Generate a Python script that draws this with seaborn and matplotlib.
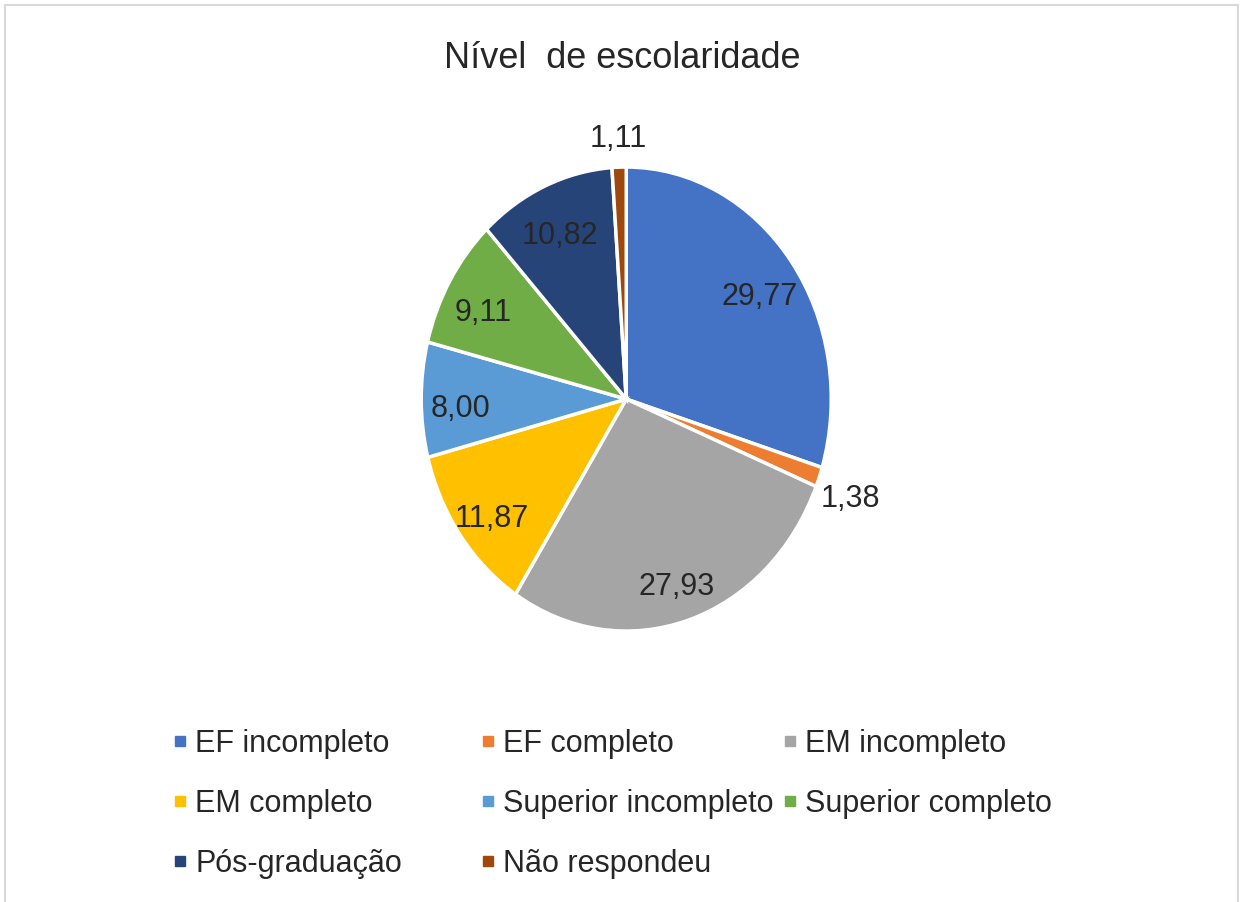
import matplotlib
matplotlib.use("Agg")
import matplotlib.pyplot as plt
from matplotlib.lines import Line2D
from matplotlib.patches import Rectangle
import numpy as np
import seaborn as sns

categories = ["EF incompleto", "EF completo", "EM incompleto", "EM completo",
              "Superior incompleto", "Superior completo", "Pós-graduação", "Não respondeu"]
values = [29.77, 1.38, 27.93, 11.87, 8.00, 9.11, 10.82, 1.11]
colors = ["#4472C4", "#ED7D31", "#A5A5A5", "#FFC000",
          "#5B9BD5", "#70AD47", "#264478", "#9E480E"]
title = "Nível  de escolaridade"

sns.set_theme(style="white")
plt.rcParams['font.family'] = ['Liberation Sans', 'DejaVu Sans']

fig = plt.figure(figsize=(12.44, 9.02), dpi=100)
fig.patch.set_facecolor("white")

# light frame around the chart area
fig.add_artist(Rectangle((5 / 1244, -0.01), 1233 / 1244, 1 - 5 / 902 + 0.01,
                         transform=fig.transFigure, fill=False,
                         edgecolor="#d9d9d9", linewidth=1.5))

ax = fig.add_axes([0.2974, 0.2361, 0.412, 0.643])
wedges, _ = ax.pie(values, colors=colors, startangle=90, counterclock=False,
                   wedgeprops=dict(edgecolor="white", linewidth=2.5))
ax.set_aspect("auto")
ax.set_xlim(-1.25, 1.25)
ax.set_ylim(-1.25, 1.25)
ax.axis("off")

# data labels (comma decimal), small slices outside
for w, v in zip(wedges, values):
    ang = np.deg2rad((w.theta1 + w.theta2) / 2)
    r = 1.16 if v < 2 else 0.81
    ax.text(r * np.cos(ang), r * np.sin(ang) - 0.04, f"{v:.2f}".replace(".", ","),
            ha="center", va="center", fontsize=22, color="#262626")

fig.text(0.5004, 1 - 58 / 902, title, ha="center", va="center",
         fontsize=26, color="#262626")

# legend laid out row by row in three equal columns
handles = [Line2D([], [], marker="s", linestyle="none", markersize=7,
                  markerfacecolor=c, markeredgecolor=c) for c in colors]
col_x = [174 / 1244, 482 / 1244, 784 / 1244]
for j, x in enumerate(col_x):
    idx = list(range(j, len(categories), 3))
    leg = fig.legend([handles[i] for i in idx], [categories[i] for i in idx],
                     loc="upper left", bbox_to_anchor=(x, 1 - 729 / 902),
                     frameon=False, fontsize=22, borderpad=0, borderaxespad=0,
                     handlelength=0.4, handletextpad=0.3, labelspacing=0.98,
                     labelcolor="#262626")

fig.savefig("out.png", dpi=100, facecolor="white")
